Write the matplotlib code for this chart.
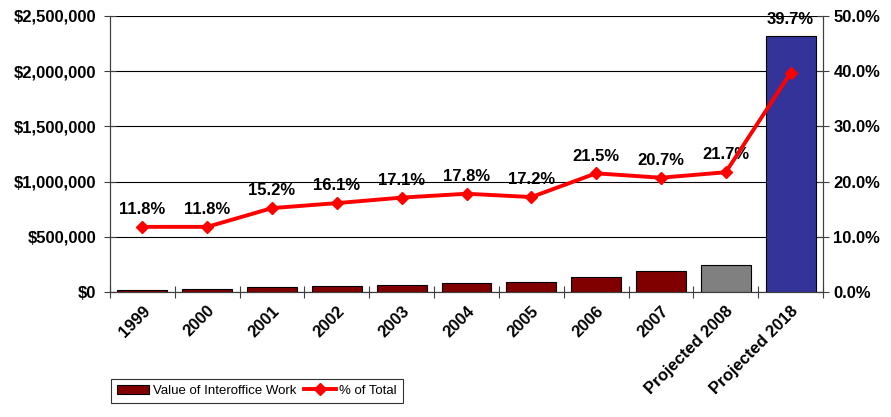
import numpy as np
import matplotlib.pyplot as plt
from matplotlib.ticker import FuncFormatter

plt.rcParams['font.family'] = ['Liberation Sans', 'DejaVu Sans']

years = ['1999', '2000', '2001', '2002', '2003', '2004', '2005', '2006', '2007',
         'Projected 2008', 'Projected 2018']
values = [22000, 31000, 43000, 52000, 67000, 85000, 95000, 135000, 190000, 242000, 2320000]
pct = [11.8, 11.8, 15.2, 16.1, 17.1, 17.8, 17.2, 21.5, 20.7, 21.7, 39.7]
colors = ['#800000'] * 9 + ['#808080', '#333399']

fig = plt.figure(figsize=(8.91, 4.17), dpi=100)
ax = fig.add_axes([110 / 891, 1 - 292 / 417, 713 / 891, 276 / 417])
ax2 = ax.twinx()

x = np.arange(len(years))
bars = ax.bar(x, values, width=0.77, color=colors, edgecolor='black', linewidth=0.8,
              zorder=3, label='Value of Interoffice Work')
ax.set_xlim(-0.5, len(years) - 0.5)
ax.set_ylim(0, 2500000)
ax.set_yticks(np.arange(0, 2500001, 500000))
ax.yaxis.set_major_formatter(FuncFormatter(lambda v, p: '${:,.0f}'.format(v)))
ax.grid(axis='y', color='black', linewidth=0.8, zorder=0)
ax.set_axisbelow(True)

# ticks sit between categories
ax.set_xticks(np.arange(-0.5, len(years), 1.0))
ax.set_xticklabels([])
ax.set_xticks(x, minor=True)
ax.set_xticklabels(years, minor=True, rotation=45, ha='right', rotation_mode='anchor',
                   fontsize=12, fontweight='bold')
ax.tick_params(axis='x', which='minor', length=0, pad=8)
ax.tick_params(axis='x', which='major', direction='inout', length=8, color='#404040')
ax.tick_params(axis='y', direction='inout', length=8, labelsize=12, color='#404040', pad=6)
for lab in ax.get_yticklabels():
    lab.set_fontweight('bold')

line, = ax2.plot(x, pct, color='red', linewidth=2.8, marker='D', markersize=6,
                 label='% of Total', zorder=4)
ax2.set_ylim(0, 50)
ax2.set_yticks(np.arange(0, 51, 10))
ax2.yaxis.set_major_formatter(FuncFormatter(lambda v, p: '{:.1f}%'.format(v)))
ax2.tick_params(axis='y', direction='inout', length=8, labelsize=12, color='#404040')
for lab in ax2.get_yticklabels():
    lab.set_fontweight('bold')

for i, (xi, p) in enumerate(zip(x, pct)):
    off = 33 if i == len(pct) - 1 else 7  # last label sits above the tall bar
    ax2.annotate('{:.1f}%'.format(p), (xi, p), xytext=(0, off), textcoords='offset points',
                 ha='center', va='bottom', fontsize=12, fontweight='bold')

for a in (ax, ax2):
    a.spines['top'].set_visible(False)
    a.spines['left'].set_color('#404040')
    a.spines['right'].set_color('#404040')
    a.spines['bottom'].set_color('#404040')

leg = fig.legend(handles=[bars, line], loc='lower left',
                 bbox_to_anchor=(111 / 891, 1 - 403 / 417), ncol=2, frameon=True,
                 fancybox=False, edgecolor='black', fontsize=9.5, handlelength=2.4,
                 handletextpad=0.3, columnspacing=0.6, borderpad=0.45, borderaxespad=0)
leg.get_frame().set_linewidth(0.8)

fig.savefig('out.png', dpi=100)
